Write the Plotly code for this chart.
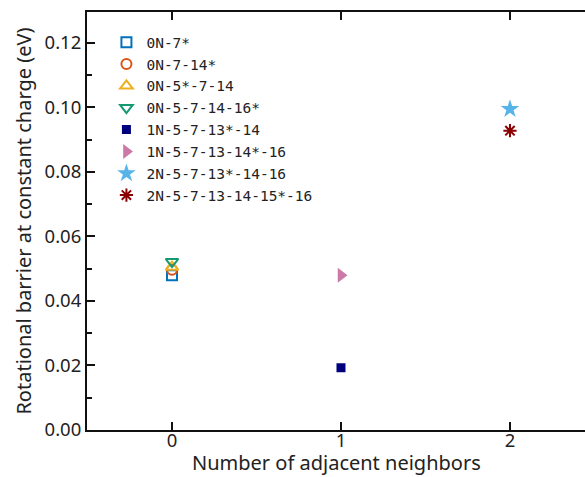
import plotly.graph_objects as go

# Rotational barrier at constant charge vs. number of adjacent neighbors
names = [
    "0N-7*",
    "0N-7-14*",
    "0N-5*-7-14",
    "0N-5-7-14-16*",
    "1N-5-7-13*-14",
    "1N-5-7-13-14*-16",
    "2N-5-7-13*-14-16",
    "2N-5-7-13-14-15*-16",
]
neighbors = [0, 0, 0, 0, 1, 1, 2, 2]
barrier = [0.048, 0.0497, 0.0505, 0.0522, 0.0193, 0.048, 0.0995, 0.0928]

symbols = ["square-open", "circle-open", "triangle-up-open", "triangle-down-open",
           "square", "triangle-right", "star", "asterisk-open"]
colors = ["#0072BD", "#D95319", "#EDB120", "#139A70",
          "#00007F", "#CC79A7", "#56B4E9", "#8B0000"]
sizes = [10, 10, 11, 11, 9, 13, 14, 11]
line_widths = [2, 2, 2, 2, 0, 0, 0, 2]

fig = go.Figure()
for n, x, y, s, c, sz, lw in zip(names, neighbors, barrier, symbols, colors, sizes, line_widths):
    fig.add_trace(go.Scatter(
        x=[x], y=[y], mode="markers", name=n,
        marker=dict(symbol=s, color=c, size=sz, line=dict(color=c, width=lw)),
    ))

tick_font = dict(family="Noto Sans, Open Sans, sans-serif", size=18.5, color="#222")
title_font = dict(family="Noto Sans, Open Sans, sans-serif", size=20, color="#222")

fig.update_layout(
    width=585, height=477,
    margin=dict(l=87, r=0, t=12, b=47),
    plot_bgcolor="white", paper_bgcolor="white",
    showlegend=True,
    legend=dict(
        x=0.039, y=0.966, xanchor="left", yanchor="top",
        bgcolor="rgba(0,0,0,0)",
        font=dict(family="DejaVu Sans Mono, monospace", size=14.5, color="#222"),
        itemwidth=30, tracegroupgap=0,
    ),
    xaxis=dict(
        range=[-0.503, 2.444],
        tickvals=[0, 1, 2], ticktext=["0", "1", "2"],
        ticks="inside", ticklen=8, tickwidth=1.5, tickcolor="#111",
        ticklabelstandoff=-7,
        showline=True, linecolor="#111", linewidth=2, mirror="ticks",
        showgrid=False, zeroline=False,
        tickfont=tick_font,
    ),
    yaxis=dict(
        range=[0, 0.1296],
        tickvals=[0, 0.02, 0.04, 0.06, 0.08, 0.10, 0.12],
        ticktext=["0.00", "0.02", "0.04", "0.06", "0.08", "0.10", "0.12"],
        ticks="inside", ticklen=8, tickwidth=1.5, tickcolor="#111",
        minor=dict(tickvals=[0.01, 0.03, 0.05, 0.07, 0.09, 0.11], ticks="inside",
                   ticklen=5, tickwidth=1.5, tickcolor="#111", showgrid=False),
        showline=True, linecolor="#111", linewidth=2, mirror=False,
        showgrid=False, zeroline=False,
        tickfont=tick_font,
        title=dict(text="Rotational barrier at constant charge (eV)", font=title_font, standoff=8),
    ),
    annotations=[dict(
        text="Number of adjacent neighbors", font=title_font, showarrow=False,
        xref="paper", yref="paper", x=0.5, y=0, xanchor="center", yanchor="bottom",
        yshift=-48,
    )],
)

fig.write_html("out.html")
